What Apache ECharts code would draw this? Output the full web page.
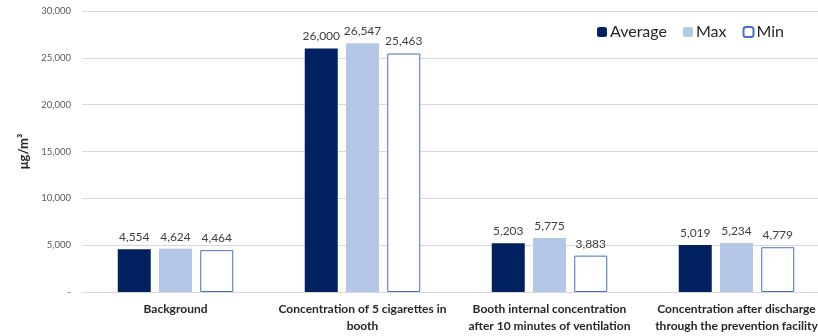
<!DOCTYPE html>
<html>
<head>
<meta charset="utf-8">
<script src="https://cdn.jsdelivr.net/npm/echarts@6/dist/echarts.min.js"></script>
<style>html,body{margin:0;padding:0;background:#fff}#c{width:818px;height:336px}</style>
</head>
<body>
<div id="c"></div>
<script>
const categories = [
  'Background',
  'Concentration of 5 cigarettes in\nbooth',
  'Booth internal concentration\nafter 10 minutes of ventilation',
  'Concentration after discharge\nthrough the prevention facility'
];
const averageValues = [4554, 26000, 5203, 5019];
const maxValues = [4624, 26547, 5775, 5234];
const minValues = [4464, 25463, 3883, 4779];
const yAxisName = 'μg/m³';

const FONT = 'Lato, "Liberation Sans", sans-serif';
const fmt = v => v.toLocaleString('en-US');
const labelCfg = {
  show: true, position: 'top', distance: 6,
  color: '#404040', fontSize: 12, fontFamily: FONT,
  formatter: p => fmt(p.value)
};

const chart = echarts.init(document.getElementById('c'), null, {renderer: 'canvas'});
chart.setOption({
  animation: false,
  textStyle: {fontFamily: FONT},
  grid: {left: 82, top: 11, width: 748, height: 281, containLabel: false, outerBoundsMode: 'none'},
  legend: {
    right: 29, top: 19, itemWidth: 10, itemHeight: 10, itemGap: 16,
    textStyle: {fontSize: 16, color: '#262626', fontFamily: FONT, padding: [0, 0, 0, -2]},
    data: ['Average', 'Max', 'Min']
  },
  xAxis: {
    type: 'category', data: categories,
    axisLine: {lineStyle: {color: '#d9d9d9'}},
    axisTick: {show: false},
    axisLabel: {
      interval: 0, color: '#262626', fontSize: 12, fontWeight: 'bold',
      fontFamily: FONT, margin: 9, lineHeight: 17
    }
  },
  yAxis: {
    type: 'value', min: 0, max: 30000, interval: 5000,
    name: yAxisName, nameLocation: 'middle', nameGap: 52, nameRotate: 90,
    nameTextStyle: {fontSize: 13, fontWeight: 'bold', color: '#262626', fontFamily: FONT},
    axisLine: {show: false}, axisTick: {show: false},
    splitLine: {lineStyle: {color: '#d9d9d9'}},
    axisLabel: {
      color: '#595959', fontSize: 9.5, fontFamily: FONT, margin: 11,
      formatter: v => v === 0 ? '-' : fmt(v)
    }
  },
  series: [
    {name: 'Average', type: 'bar', data: averageValues, barWidth: 33, barGap: '25%',
     itemStyle: {color: '#002060'}, label: labelCfg},
    {name: 'Max', type: 'bar', data: maxValues, barWidth: 33, barGap: '25%',
     itemStyle: {color: '#b4c7e7'}, label: labelCfg},
    {name: 'Min', type: 'bar', data: minValues, barWidth: 33, barGap: '25%',
     itemStyle: {color: '#ffffff', borderColor: '#4472c4', borderWidth: 1}, label: labelCfg}
  ]
});
</script>
</body>
</html>
